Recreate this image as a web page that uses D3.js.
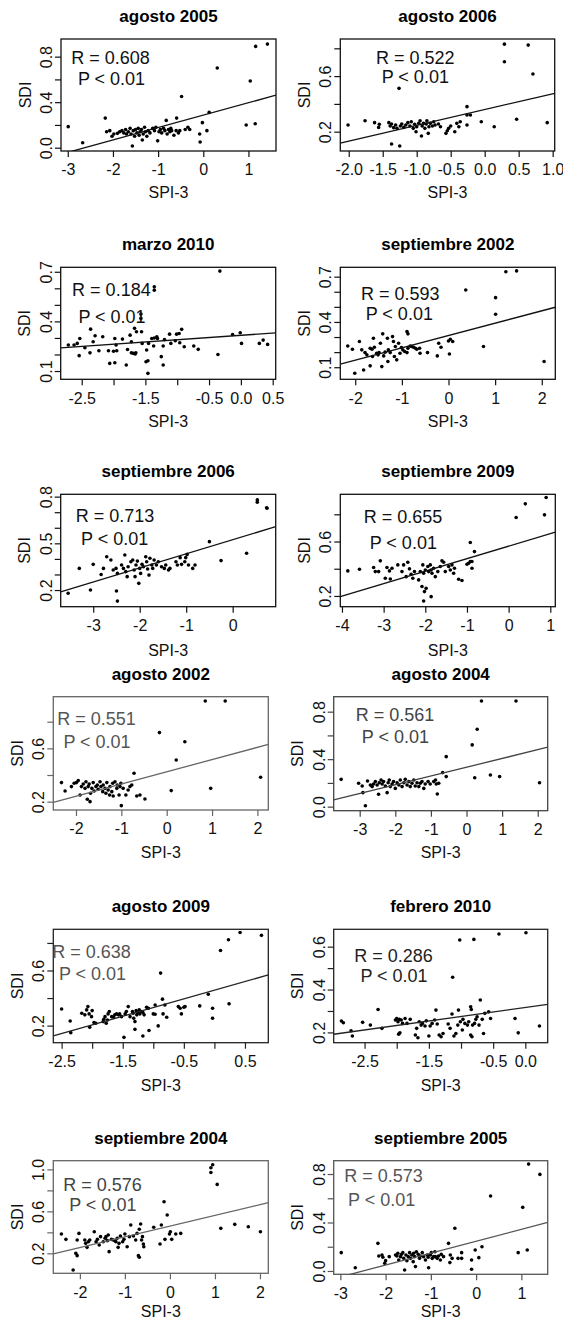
<!DOCTYPE html>
<html><head><meta charset="utf-8">
<script src="https://cdn.jsdelivr.net/npm/d3@7"></script>
<style>
html,body{margin:0;padding:0;background:#fff;}
svg{display:block;font-family:"Liberation Sans",Arial,sans-serif;}
</style></head>
<body><svg id="chart" width="563" height="1324"></svg>
<script>
// ---------------- DATA ----------------
const titles = ["agosto 2005","agosto 2006","marzo 2010","septiembre 2002","septiembre 2006","septiembre 2009","agosto 2002","agosto 2004","agosto 2009","febrero 2010","septiembre 2004","septiembre 2005"];
const rValues = ["0.608","0.522","0.184","0.593","0.713","0.655","0.551","0.561","0.638","0.286","0.576","0.573"];
const pLabel = "P < 0.01";
const xLabel = "SPI-3";
const yLabel = "SDI";
const intercepts = [0.286,0.359,0.316,0.31,0.523,0.566,0.424,0.332,0.457,0.316,0.459,0.245];
const slopes = [0.109,0.114,0.0267,0.0818,0.0904,0.0919,0.0918,0.0739,0.126,0.0418,0.1024,0.098];
const xDomains = [[-3.15,1.61],[-2.124,1.03],[-2.83,0.547],[-2.32,2.29],[-3.70,0.926],[-4.04,1.12],[-2.5,2.24],[-3.73,2.28],[-2.636,0.882],[-2.98,0.348],[-2.59,2.185],[-3.147,1.582]];
const yDomains = [[-0.029,0.955],[0.061,0.867],[0.05,0.727],[0.02,0.762],[0.093,0.815],[0.121,0.947],[0.1375,0.9875],[-0.034,0.926],[0.076,0.899],[0.152,0.681],[0.0095,1.083],[-0.0275,0.91]];
const xTickValues = [[-3,-2,-1,0,1],[-2,-1.5,-1,-0.5,0,0.5,1],[-2.5,-2,-1.5,-1,-0.5,0,0.5],[-2,-1,0,1,2],[-3,-2,-1,0],[-4,-3,-2,-1,0,1],[-2,-1,0,1,2],[-3,-2,-1,0,1,2],[-2.5,-2,-1.5,-1,-0.5,0,0.5],[-2.5,-2,-1.5,-1,-0.5,0],[-2,-1,0,1,2],[-3,-2,-1,0,1]];
const xTickLabels = [["-3","-2","-1","0","1"],["-2.0","-1.5","-1.0","-0.5","0.0","0.5","1.0"],["-2.5","","-1.5","","-0.5","0.0","0.5"],["-2","-1","0","1","2"],["-3","-2","-1","0"],["-4","-3","-2","-1","0","1"],["-2","-1","0","1","2"],["-3","-2","-1","0","1","2"],["-2.5","","-1.5","","-0.5","","0.5"],["-2.5","","-1.5","","-0.5","0.0"],["-2","-1","0","1","2"],["-3","-2","-1","0","1"]];
const yTickValues = [[0,0.2,0.4,0.6,0.8],[0.2,0.4,0.6,0.8],[0.1,0.2,0.3,0.4,0.5,0.6,0.7],[0.1,0.2,0.3,0.4,0.5,0.6,0.7],[0.2,0.3,0.4,0.5,0.6,0.7,0.8],[0.2,0.4,0.6,0.8],[0.2,0.4,0.6,0.8],[0,0.2,0.4,0.6,0.8],[0.2,0.4,0.6,0.8],[0.2,0.3,0.4,0.5,0.6],[0.2,0.4,0.6,0.8,1.0],[0,0.2,0.4,0.6,0.8]];
const yTickLabels = [["0.0","","0.4","","0.8"],["0.2","","0.6",""],["0.1","","","0.4","","","0.7"],["0.1","","","0.4","","","0.7"],["0.2","","","0.5","","","0.8"],["0.2","","0.6",""],["0.2","","0.6",""],["0.0","","0.4","","0.8"],["0.2","","0.6",""],["0.2","","0.4","","0.6"],["0.2","","0.6","","1.0"],["0.0","","0.4","","0.8"]];

// points: [SPI-3, SDI]
const ago2005 = [[-2.99,0.185],[-2.67,0.044],[-2.17,0.26],[-2.14,0.14],[-2.07,0.15],[-2.02,0.10],[-1.98,0.12],[-1.90,0.126],[-1.85,0.14],[-1.80,0.15],[-1.76,0.13],[-1.72,0.16],[-1.70,0.12],[-1.66,0.14],[-1.62,0.17],[-1.60,0.12],[-1.57,0.015],[-1.55,0.15],[-1.52,0.10],[-1.50,0.16],[-1.47,0.13],[-1.44,0.17],[-1.42,0.11],[-1.40,0.14],[-1.37,0.16],[-1.35,0.067],[-1.33,0.12],[-1.30,0.18],[-1.28,0.14],[-1.25,0.10],[-1.22,0.15],[-1.18,0.13],[-1.12,0.17],[-1.08,0.15],[-1.05,0.18],[-1.01,0.06],[-0.98,0.14],[-0.95,0.16],[-0.92,0.13],[-0.88,0.17],[-0.85,0.15],[-0.82,0.24],[-0.80,0.12],[-0.77,0.16],[-0.74,0.14],[-0.72,0.17],[-0.70,0.15],[-0.65,0.11],[-0.60,0.15],[-0.59,0.26],[-0.55,0.13],[-0.52,0.15],[-0.48,0.45],[-0.40,0.16],[-0.34,0.18],[-0.30,0.16],[-0.08,0.12],[-0.07,0.05],[-0.02,0.22],[0.08,0.15],[0.13,0.31],[0.31,0.70],[0.95,0.20],[1.04,0.586],[1.15,0.21],[1.16,0.89],[1.42,0.91]];
const ago2006 = [[-2.01,0.248],[-1.76,0.279],[-1.62,0.265],[-1.56,0.231],[-1.55,0.253],[-1.41,0.265],[-1.39,0.241],[-1.37,0.255],[-1.37,0.111],[-1.34,0.229],[-1.31,0.248],[-1.29,0.224],[-1.26,0.512],[-1.25,0.097],[-1.24,0.241],[-1.22,0.255],[-1.19,0.231],[-1.16,0.248],[-1.13,0.265],[-1.10,0.241],[-1.08,0.272],[-1.05,0.224],[-1.03,0.253],[-1.01,0.2],[-1.0,0.236],[-0.97,0.26],[-0.95,0.279],[-0.93,0.169],[-0.92,0.241],[-0.90,0.26],[-0.88,0.224],[-0.86,0.255],[-0.85,0.279],[-0.83,0.188],[-0.82,0.236],[-0.80,0.26],[-0.77,0.241],[-0.75,0.272],[-0.73,0.248],[-0.68,0.255],[-0.65,0.236],[-0.57,0.188],[-0.55,0.207],[-0.53,0.224],[-0.50,0.241],[-0.44,0.2],[-0.41,0.26],[-0.38,0.236],[-0.36,0.272],[-0.26,0.38],[-0.26,0.32],[-0.26,0.248],[-0.21,0.32],[-0.05,0.272],[0.14,0.236],[0.29,0.703],[0.29,0.83],[0.47,0.289],[0.64,0.823],[0.71,0.615],[0.92,0.265]];
const mar2010 = [[-2.71,0.257],[-2.62,0.257],[-2.57,0.267],[-2.53,0.297],[-2.54,0.193],[-2.45,0.241],[-2.36,0.353],[-2.37,0.21],[-2.32,0.277],[-2.29,0.313],[-2.23,0.223],[-2.17,0.307],[-2.08,0.223],[-2.06,0.146],[-2.0,0.22],[-1.98,0.297],[-1.98,0.15],[-1.96,0.257],[-1.95,0.223],[-1.86,0.293],[-1.80,0.136],[-1.78,0.23],[-1.74,0.317],[-1.72,0.277],[-1.72,0.21],[-1.69,0.207],[-1.66,0.203],[-1.65,0.21],[-1.67,0.358],[-1.64,0.337],[-1.57,0.444],[-1.57,0.418],[-1.56,0.337],[-1.55,0.267],[-1.48,0.227],[-1.49,0.156],[-1.46,0.162],[-1.46,0.086],[-1.45,0.267],[-1.40,0.297],[-1.36,0.30],[-1.36,0.609],[-1.36,0.589],[-1.32,0.307],[-1.37,0.251],[-1.31,0.297],[-1.25,0.187],[-1.22,0.251],[-1.22,0.136],[-1.20,0.29],[-1.12,0.323],[-1.10,0.267],[-1.03,0.283],[-1.01,0.323],[-0.97,0.327],[-0.93,0.352],[-0.96,0.271],[-0.89,0.247],[-0.74,0.251],[-0.67,0.231],[-0.36,0.20],[-0.33,0.704],[-0.13,0.321],[-0.01,0.331],[0.01,0.267],[0.29,0.267],[0.35,0.287],[0.42,0.261]];
const sep2002 = [[-2.16,0.241],[-2.06,0.219],[-2.01,0.06],[-1.91,0.27],[-1.86,0.215],[-1.82,0.082],[-1.79,0.197],[-1.75,0.182],[-1.68,0.226],[-1.68,0.109],[-1.64,0.219],[-1.63,0.171],[-1.61,0.292],[-1.59,0.232],[-1.54,0.193],[-1.51,0.182],[-1.49,0.197],[-1.46,0.259],[-1.43,0.104],[-1.41,0.321],[-1.39,0.175],[-1.36,0.2],[-1.31,0.292],[-1.30,0.138],[-1.29,0.215],[-1.25,0.197],[-1.2,0.303],[-1.18,0.27],[-1.16,0.171],[-1.14,0.237],[-1.11,0.149],[-1.07,0.259],[-1.04,0.193],[-1.01,0.23],[-0.98,0.215],[-0.94,0.204],[-0.89,0.336],[-0.87,0.321],[-0.89,0.197],[-0.87,0.226],[-0.82,0.241],[-0.79,0.237],[-0.75,0.232],[-0.71,0.226],[-0.68,0.219],[-0.62,0.226],[-0.61,0.193],[-0.45,0.197],[-0.24,0.175],[-0.21,0.259],[-0.16,0.232],[0,0.274],[0.04,0.285],[0.09,0.27],[0.02,0.188],[0.37,0.612],[0.75,0.237],[1.01,0.561],[1.01,0.451],[1.23,0.733],[1.46,0.738],[2.05,0.138]];
const sep2006 = [[-3.54,0.179],[-3.30,0.339],[-3.06,0.2],[-3.0,0.365],[-2.83,0.30],[-2.78,0.339],[-2.71,0.414],[-2.62,0.393],[-2.57,0.329],[-2.51,0.339],[-2.50,0.194],[-2.48,0.129],[-2.48,0.307],[-2.39,0.361],[-2.35,0.339],[-2.32,0.425],[-2.30,0.318],[-2.27,0.286],[-2.25,0.35],[-2.19,0.382],[-2.15,0.393],[-2.12,0.329],[-2.10,0.286],[-2.08,0.361],[-2.05,0.386],[-2.02,0.243],[-2.0,0.339],[-1.98,0.307],[-1.95,0.365],[-1.92,0.35],[-1.87,0.414],[-1.85,0.382],[-1.83,0.335],[-1.80,0.296],[-1.78,0.404],[-1.74,0.361],[-1.72,0.339],[-1.69,0.393],[-1.64,0.361],[-1.60,0.382],[-1.53,0.35],[-1.47,0.339],[-1.44,0.361],[-1.38,0.329],[-1.35,0.339],[-1.22,0.382],[-1.19,0.361],[-1.13,0.408],[-1.10,0.365],[-1.03,0.382],[-1.01,0.408],[-0.98,0.429],[-0.95,0.361],[-0.86,0.339],[-0.81,0.361],[-0.50,0.511],[-0.25,0.389],[0.30,0.436],[0.53,0.779],[0.53,0.764],[0.73,0.729],[0.74,0.725]];
const sep2009 = [[-3.86,0.384],[-3.58,0.396],[-3.24,0.409],[-3.2,0.379],[-3.12,0.379],[-3.08,0.458],[-2.96,0.33],[-2.92,0.409],[-2.86,0.384],[-2.84,0.325],[-2.80,0.404],[-2.66,0.428],[-2.56,0.379],[-2.52,0.428],[-2.42,0.448],[-2.38,0.399],[-2.46,0.342],[-2.34,0.36],[-2.30,0.33],[-2.26,0.379],[-2.16,0.318],[-2.12,0.379],[-2.08,0.269],[-2.06,0.428],[-2.04,0.367],[-2.04,0.163],[-2.02,0.232],[-2.0,0.391],[-1.98,0.256],[-1.94,0.416],[-1.92,0.379],[-1.88,0.428],[-1.86,0.195],[-1.86,0.391],[-1.84,0.367],[-1.80,0.404],[-1.76,0.342],[-1.70,0.379],[-1.64,0.416],[-1.60,0.458],[-1.56,0.448],[-1.52,0.379],[-1.44,0.416],[-1.40,0.391],[-1.36,0.428],[-1.32,0.367],[-1.30,0.404],[-1.20,0.323],[-1.12,0.313],[-1.0,0.433],[-0.96,0.44],[-0.92,0.453],[-0.88,0.453],[-0.92,0.593],[-0.88,0.404],[-0.82,0.526],[0.18,0.777],[0.40,0.877],[0.86,0.796],[0.90,0.924]];
const ago2002 = [[-2.32,0.343],[-2.24,0.28],[-2.10,0.313],[-2.04,0.338],[-1.99,0.343],[-1.95,0.358],[-1.91,0.25],[-1.88,0.313],[-1.84,0.333],[-1.80,0.30],[-1.78,0.35],[-1.75,0.218],[-1.73,0.313],[-1.71,0.333],[-1.69,0.2],[-1.68,0.263],[-1.65,0.30],[-1.62,0.343],[-1.60,0.28],[-1.56,0.313],[-1.53,0.325],[-1.51,0.293],[-1.47,0.35],[-1.45,0.313],[-1.41,0.275],[-1.40,0.325],[-1.36,0.30],[-1.34,0.263],[-1.32,0.343],[-1.29,0.288],[-1.26,0.25],[-1.25,0.313],[-1.21,0.275],[-1.19,0.338],[-1.18,0.243],[-1.14,0.35],[-1.10,0.30],[-1.09,0.325],[-1.05,0.25],[-1.03,0.313],[-1.01,0.338],[-1.0,0.17],[-0.96,0.30],[-0.90,0.25],[-0.85,0.288],[-0.81,0.313],[-0.77,0.325],[-0.72,0.413],[-0.66,0.243],[-0.59,0.25],[-0.48,0.22],[-0.16,0.718],[0.10,0.283],[0.21,0.513],[0.40,0.65],[0.85,0.955],[0.97,0.30],[1.29,0.955],[2.07,0.383]];
const ago2004 = [[-3.52,0.23],[-3.03,0.197],[-2.93,0.174],[-2.91,0.118],[-2.84,0.008],[-2.78,0.216],[-2.70,0.183],[-2.65,0.169],[-2.61,0.191],[-2.56,0.211],[-2.51,0.183],[-2.47,0.104],[-2.45,0.202],[-2.40,0.225],[-2.37,0.191],[-2.33,0.211],[-2.28,0.174],[-2.23,0.118],[-2.20,0.202],[-2.17,0.225],[-2.14,0.169],[-2.09,0.191],[-2.05,0.211],[-2.0,0.154],[-1.95,0.202],[-1.90,0.183],[-1.86,0.225],[-1.81,0.169],[-1.76,0.202],[-1.72,0.23],[-1.67,0.183],[-1.62,0.211],[-1.58,0.169],[-1.53,0.197],[-1.48,0.225],[-1.44,0.174],[-1.39,0.202],[-1.34,0.169],[-1.30,0.197],[-1.25,0.211],[-1.20,0.154],[-1.16,0.191],[-1.08,0.211],[-1.02,0.191],[-0.92,0.211],[-0.87,0.225],[-0.85,0.191],[-0.82,0.107],[-0.78,0.197],[-0.67,0.287],[-0.57,0.421],[-0.57,0.253],[0.16,0.52],[0.23,0.244],[0.30,0.652],[0.42,0.89],[0.67,0.267],[0.93,0.253],[1.39,0.89],[2.05,0.202]];
const ago2009 = [[-2.5,0.321],[-2.36,0.234],[-2.35,0.149],[-2.17,0.29],[-2.12,0.278],[-2.09,0.314],[-2.07,0.338],[-2.05,0.285],[-2.04,0.188],[-2.01,0.265],[-2.0,0.309],[-1.97,0.222],[-1.94,0.217],[-1.82,0.229],[-1.81,0.246],[-1.79,0.265],[-1.77,0.217],[-1.75,0.241],[-1.74,0.285],[-1.72,0.302],[-1.68,0.265],[-1.65,0.261],[-1.63,0.278],[-1.60,0.285],[-1.57,0.278],[-1.55,0.285],[-1.52,0.265],[-1.48,0.115],[-1.46,0.285],[-1.44,0.302],[-1.41,0.338],[-1.38,0.265],[-1.34,0.302],[-1.33,0.29],[-1.32,0.253],[-1.30,0.229],[-1.30,0.173],[-1.28,0.309],[-1.27,0.278],[-1.26,0.295],[-1.23,0.314],[-1.22,0.285],[-1.19,0.302],[-1.17,0.295],[-1.17,0.125],[-1.15,0.278],[-1.11,0.333],[-1.08,0.326],[-1.07,0.164],[-1.0,0.285],[-0.97,0.35],[-0.97,0.282],[-0.92,0.198],[-0.88,0.581],[-0.85,0.392],[-0.84,0.285],[-0.81,0.35],[-0.78,0.261],[-0.59,0.338],[-0.56,0.326],[-0.54,0.285],[-0.50,0.333],[-0.48,0.338],[-0.24,0.343],[-0.10,0.428],[-0.03,0.326],[-0.03,0.253],[0.10,0.745],[0.23,0.823],[0.24,0.358],[0.42,0.876],[0.77,0.855]];
const feb2010 = [[-2.86,0.253],[-2.83,0.245],[-2.71,0.208],[-2.69,0.183],[-2.53,0.247],[-2.41,0.234],[-2.29,0.307],[-2.23,0.219],[-2.02,0.258],[-2.0,0.265],[-1.98,0.25],[-1.96,0.261],[-1.97,0.192],[-1.95,0.198],[-1.93,0.258],[-1.91,0.242],[-1.87,0.265],[-1.84,0.242],[-1.79,0.261],[-1.71,0.188],[-1.69,0.219],[-1.67,0.175],[-1.65,0.25],[-1.62,0.234],[-1.60,0.242],[-1.56,0.23],[-1.54,0.254],[-1.50,0.183],[-1.48,0.23],[-1.45,0.242],[-1.41,0.258],[-1.39,0.304],[-1.37,0.239],[-1.34,0.188],[-1.31,0.18],[-1.28,0.195],[-1.20,0.239],[-1.17,0.219],[-1.14,0.286],[-1.13,0.457],[-1.11,0.183],[-1.08,0.195],[-1.05,0.234],[-1.04,0.304],[-1.02,0.631],[-1.01,0.25],[-0.98,0.211],[-0.97,0.261],[-0.94,0.242],[-0.90,0.234],[-0.88,0.25],[-0.85,0.188],[-0.85,0.32],[-0.84,0.307],[-0.83,0.18],[-0.82,0.234],[-0.80,0.634],[-0.79,0.242],[-0.77,0.261],[-0.75,0.273],[-0.72,0.234],[-0.70,0.351],[-0.67,0.261],[-0.65,0.195],[-0.63,0.289],[-0.57,0.296],[-0.54,0.265],[-0.41,0.659],[-0.16,0.265],[-0.11,0.198],[0.01,0.665],[0.22,0.23]];
const sep2004 = [[-2.41,0.384],[-2.31,0.333],[-2.15,0.041],[-2.09,0.2],[-2.06,0.178],[-2.06,0.327],[-2.02,0.39],[-1.89,0.327],[-1.87,0.295],[-1.84,0.257],[-1.81,0.311],[-1.78,0.327],[-1.68,0.406],[-1.64,0.311],[-1.61,0.333],[-1.57,0.279],[-1.54,0.359],[-1.48,0.311],[-1.44,0.343],[-1.42,0.359],[-1.39,0.321],[-1.37,0.375],[-1.35,0.216],[-1.30,0.333],[-1.26,0.327],[-1.22,0.321],[-1.2,0.311],[-1.17,0.343],[-1.15,0.257],[-1.13,0.295],[-1.10,0.365],[-1.05,0.311],[-1.02,0.333],[-1.0,0.384],[-0.95,0.263],[-0.90,0.359],[-0.87,0.47],[-0.81,0.365],[-0.76,0.327],[-0.73,0.39],[-0.70,0.178],[-0.68,0.162],[-0.68,0.429],[-0.65,0.479],[-0.63,0.327],[-0.61,0.359],[-0.59,0.289],[-0.58,0.263],[-0.36,0.448],[-0.22,0.289],[-0.19,0.47],[-0.13,0.692],[-0.11,0.333],[-0.06,0.565],[-0.01,0.384],[0.01,0.406],[0.04,0.333],[0.13,0.384],[0.24,0.39],[0.91,0.971],[0.91,1.016],[0.95,1.044],[1.05,0.857],[1.13,0.438],[1.44,0.476],[1.74,0.454],[2.01,0.406]];
const sep2005 = [[-2.98,0.151],[-2.67,0.027],[-2.17,0.228],[-2.15,0.124],[-2.08,0.132],[-2.06,0.113],[-2.02,0.063],[-2.0,0.085],[-1.92,0.118],[-1.78,0.132],[-1.75,0.124],[-1.73,0.146],[-1.71,0.091],[-1.67,0.118],[-1.65,0.137],[-1.62,0.151],[-1.60,0.104],[-1.58,0.008],[-1.55,0.132],[-1.53,0.085],[-1.50,0.118],[-1.47,0.151],[-1.45,0.104],[-1.42,0.132],[-1.39,0.077],[-1.38,0.146],[-1.36,0.118],[-1.34,0.036],[-1.32,0.159],[-1.28,0.137],[-1.25,0.104],[-1.23,0.124],[-1.19,0.151],[-1.16,0.118],[-1.12,0.091],[-1.08,0.132],[-1.06,0.113],[-1.05,0.027],[-1.01,0.132],[-0.99,0.151],[-0.97,0.104],[-0.94,0.118],[-0.91,0.159],[-0.90,0.118],[-0.86,0.104],[-0.83,0.124],[-0.79,0.091],[-0.77,0.137],[-0.72,0.118],[-0.61,0.228],[-0.58,0.069],[-0.57,0.132],[-0.53,0.104],[-0.47,0.352],[-0.40,0.104],[-0.32,0.151],[-0.32,0.104],[-0.10,0.014],[-0.10,0.091],[-0.02,0.173],[0.06,0.11],[0.13,0.2],[0.32,0.619],[0.93,0.151],[1.03,0.525],[1.13,0.173],[1.16,0.882],[1.41,0.797]];
const pointSets = [ago2005,ago2006,mar2010,sep2002,sep2006,sep2009,ago2002,ago2004,ago2009,feb2010,sep2004,sep2005];

// ---------------- LAYOUT / STYLE ----------------
const boxes = [[61,39,276,151],[340.3,39,554.7,151],[60.7,267.3,275.7,379.3],[340.3,267.3,555.3,379.3],[60.7,494.3,275.7,606.7],[340.3,494.3,555.3,606.7],[53.3,696.7,268.3,810],[333.7,696.7,547.7,810.7],[53.3,929.3,268.3,1042.7],[333.7,929.3,547.7,1042.7],[53.3,1160.7,268.3,1273.3],[333.7,1160.7,547.7,1274.3]];
const xLabelOffsets = [41,41,42,42,44,44,42,42,43,43,38,37];
// annotation centers relative to box left/top: [rx, ry, px, py]
const annot = [[49.5,19,50.5,40],[75,19,75,37.7],[50.7,22.7,51.3,49.4],[60,26,59,46.7],[54.3,21.7,54,44],[62.7,22.4,63,48],[43.2,21.6,43.7,45],[61.3,18.3,61.7,40],[38.2,22.4,39.2,44],[59.8,26.7,60.3,46.7],[49.2,24.3,49.5,44.3],[49.8,15.3,48,39.3]];
const boxColors = ["#111","#111","#111","#111","#111","#111","#666","#444","#222","#222","#666","#555"];
const annColors = ["#111","#111","#111","#111","#111","#111","#555","#444","#555","#222","#444","#555"];

const svg = d3.select("#chart");
svg.append("rect").attr("width",563).attr("height",1324).attr("fill","#fff");

pointSets.forEach((pts, i) => {
  const [l, t, r, b] = boxes[i];
  const x = d3.scaleLinear().domain(xDomains[i]).range([l, r]);
  const y = d3.scaleLinear().domain(yDomains[i]).range([b, t]);
  const g = svg.append("g");
  const col = boxColors[i];

  g.append("text").attr("x", (l + r) / 2).attr("y", t - 23).attr("dy", "0.35em")
    .attr("text-anchor", "middle").attr("font-weight", "bold").attr("font-size", 17)
    .attr("fill", "#000").text(titles[i]);

  const cid = "clip" + i;
  g.append("clipPath").attr("id", cid).append("rect")
    .attr("x", l).attr("y", t).attr("width", r - l).attr("height", b - t);

  g.append("g").selectAll("circle").data(pts).join("circle")
    .attr("cx", d => x(d[0])).attr("cy", d => y(d[1])).attr("r", 1.8).attr("fill", "#000");

  const xs = xDomains[i];
  const line = d3.line().x(d => x(d)).y(d => y(intercepts[i] + slopes[i] * d));
  g.append("path").attr("clip-path", `url(#${cid})`).attr("d", line(xs))
    .attr("fill", "none").attr("stroke", col).attr("stroke-width", 1.3);

  g.append("rect").attr("x", l).attr("y", t).attr("width", r - l).attr("height", b - t)
    .attr("fill", "none").attr("stroke", col).attr("stroke-width", 1.3);

  const xa = d3.axisBottom(x).tickValues(xTickValues[i]).tickSize(6)
    .tickFormat((d, j) => xTickLabels[i][j]);
  const gx = g.append("g").attr("transform", `translate(0,${b})`).call(xa);
  gx.select(".domain").remove();
  gx.selectAll(".tick line").attr("stroke", col).attr("stroke-width", 1.2);
  gx.selectAll(".tick text").attr("y", 13).attr("dy", "0.71em").attr("fill", "#111")
    .attr("font-size", 16).attr("font-family", "Liberation Sans, Arial, sans-serif");

  const ya = d3.axisLeft(y).tickValues(yTickValues[i]).tickSize(6)
    .tickFormat((d, j) => yTickLabels[i][j]);
  const gy = g.append("g").attr("transform", `translate(${l},0)`).call(ya);
  gy.select(".domain").remove();
  gy.selectAll(".tick line").attr("stroke", col).attr("stroke-width", 1.2);
  gy.selectAll(".tick text").attr("x", 0).attr("y", -9).attr("dy", 0)
    .attr("transform", "rotate(-90)").attr("text-anchor", "middle").attr("fill", "#111")
    .attr("font-size", 16).attr("font-family", "Liberation Sans, Arial, sans-serif");

  g.append("text").attr("x", (l + r) / 2).attr("y", b + xLabelOffsets[i]).attr("dy", "0.35em")
    .attr("text-anchor", "middle").attr("font-size", 16).attr("fill", "#111").text(xLabel);
  g.append("text").attr("transform", `translate(${l - 36},${(t + b) / 2}) rotate(-90)`)
    .attr("dy", "0.35em").attr("text-anchor", "middle").attr("font-size", 16)
    .attr("fill", "#111").text(yLabel);

  const a = annot[i];
  g.append("text").attr("x", l + a[0]).attr("y", t + a[1]).attr("dy", "0.35em")
    .attr("text-anchor", "middle").attr("font-size", 18).attr("fill", annColors[i])
    .text("R = " + rValues[i]);
  g.append("text").attr("x", l + a[2]).attr("y", t + a[3]).attr("dy", "0.35em")
    .attr("text-anchor", "middle").attr("font-size", 18).attr("fill", annColors[i])
    .text(pLabel);
});
</script></body></html>
